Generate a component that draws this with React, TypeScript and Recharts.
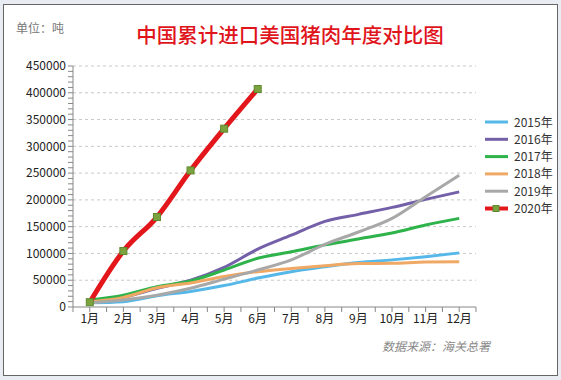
import React from 'react';
import {
  LineChart,
  Line,
  XAxis,
  YAxis,
  CartesianGrid,
} from 'recharts';

// months 1..12, values in tons (cumulative)
const months = [1, 2, 3, 4, 5, 6, 7, 8, 9, 10, 11, 12];
const y2015 = [8000, 10000, 21000, 29000, 40000, 54000, 66000, 75000, 83000, 88000, 94000, 101000];
const y2016 = [10000, 18000, 35000, 50000, 74000, 108000, 134000, 160000, 173000, 186000, 201000, 215000];
const y2017 = [13000, 22000, 38000, 48500, 69000, 91000, 103000, 116000, 127000, 138000, 153000, 165500];
const y2018 = [10000, 18000, 36000, 45000, 57000, 66000, 72000, 77000, 81000, 81500, 84000, 84500];
const y2019 = [8000, 13000, 22000, 35000, 52000, 69000, 88000, 117000, 140000, 165500, 206000, 246000];
const y2020 = [9000, 104500, 168000, 255000, 333000, 407000];

const seriesNames = ['2015年', '2016年', '2017年', '2018年', '2019年', '2020年'];
const seriesColors = ['#55B8E8', '#7460A8', '#2DB34A', '#F0A865', '#A8A8A8', '#E3161B'];
const yTicksMajor = [0, 50000, 100000, 150000, 200000, 250000, 300000, 350000, 400000, 450000];

const allSeries = [y2015, y2016, y2017, y2018, y2019, y2020];

const data = months.map((m, i) => {
  const row: any = {month: m};
  seriesNames.forEach((name, s) => {
    const v = allSeries[s][i];
    row[name] = v === undefined ? null : v;
  });
  return row;
});

const yTicks: number[] = [];
for (let v = 0; v <= 450000; v += 10000) yTicks.push(v);
const xTicks: number[] = [];
for (let v = 0.5; v <= 12.5; v += 0.5) xTicks.push(v);

const font = '"Noto Sans CJK SC", "Noto Sans", sans-serif';

const LegendBox = () => (
  <svg width={80} height={110}>
    {seriesNames.map((name, i) => {
      const y = 8 + i * 17.3;
      return (
        <g key={name}>
          <line
            x1={3}
            x2={26}
            y1={y}
            y2={y}
            stroke={seriesColors[i]}
            strokeWidth={i === 5 ? 4 : 3}
          />
          {i === 5 && (
            <rect x={11} y={y - 3} width={6} height={6} fill='#7BA23F' stroke='#5E8A2E' />
          )}
          <text x={32} y={y + 4.5} fontSize={12} fill='#333' fontFamily={font}>
            {name}
          </text>
        </g>
      );
    })}
  </svg>
);

const GreenSquare = (props: any) => {
  const {cx, cy} = props;
  if (cx == null || cy == null) return null;
  return <rect x={cx - 3.5} y={cy - 3.5} width={7} height={7} fill='#7BA23F' stroke='#5E8A2E' />;
};

const App: React.FC = () => {
  return (
    <div
      style={{
        position: 'absolute',
        left: 0,
        top: 0,
        width: 561,
        height: 380,
        background: '#E9EDF3',
        fontFamily: font,
      }}
    >
      <div
        style={{
          position: 'absolute',
          left: 3,
          top: 4,
          width: 553,
          height: 370,
          border: '1px solid #666',
          background: '#fff',
        }}
      />
      <div style={{position: 'absolute', left: 16, top: 19, fontSize: 12, color: '#777'}}>
        单位：吨
      </div>
      <div
        style={{
          position: 'absolute',
          left: 120,
          top: 19,
          width: 340,
          textAlign: 'center',
          fontSize: 20.5,
          fontWeight: 500,
          color: '#E0141B',
          whiteSpace: 'nowrap',
        }}
      >
        中国累计进口美国猪肉年度对比图
      </div>
      <div
        style={{
          position: 'absolute',
          left: 382,
          top: 337,
          fontSize: 12,
          color: '#888',
          fontStyle: 'italic',
        }}
      >
        数据来源：海关总署
      </div>
      <div style={{position: 'absolute', left: 482, top: 114}}>
        <LegendBox />
      </div>
      <div style={{position: 'absolute', left: 0, top: 0}}>
        <LineChart
          width={561}
          height={380}
          data={data}
          margin={{top: 66, right: 85, left: 0, bottom: 53}}
        >
          <CartesianGrid
            vertical={false}
            horizontalValues={yTicksMajor.slice(1)}
            stroke='#C8C8C8'
            strokeDasharray='3 3'
          />
          <XAxis
            dataKey='month'
            type='number'
            domain={[0.5, 12.5]}
            ticks={xTicks}
            interval={0}
            tickFormatter={(v: number) => (Number.isInteger(v) ? `${v}月` : '')}
            tick={{fontSize: 12, fill: '#222', fontFamily: font}}
            stroke='#888'
            tickSize={5}
            height={20}
          />
          <YAxis
            type='number'
            domain={[0, 450000]}
            ticks={yTicks}
            interval={0}
            tickFormatter={(v: number) => (v % 50000 === 0 ? String(v) : '')}
            tick={{fontSize: 12, fill: '#222', fontFamily: font}}
            stroke='#888'
            tickSize={5}
            width={73}
          />
          {seriesNames.map((name, i) => (
            <Line
              key={name}
              type='monotone'
              dataKey={name}
              stroke={seriesColors[i]}
              strokeWidth={i === 5 ? 5 : 3}
              dot={i === 5 ? <GreenSquare /> : false}
              activeDot={false}
              connectNulls={false}
              isAnimationActive={false}
            />
          ))}
        </LineChart>
      </div>
    </div>
  );
};

export default App;
